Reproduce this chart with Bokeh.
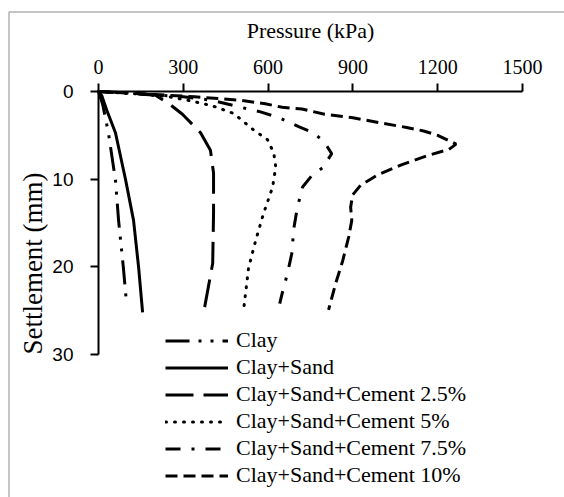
import math
from bokeh.plotting import figure
from bokeh.models import Range1d, Legend, LegendItem, BoxAnnotation, Label
from bokeh.embed import file_html
from bokeh.resources import INLINE

# ---- data ----
pressure_ticks = [0, 300, 600, 900, 1200, 1500]
settlement_ticks = [0, 10, 20, 30]

clay_p = [0, 15, 35, 60, 71, 88, 99]
clay_s = [0, 1.5, 4.7, 10.1, 14.7, 20.1, 24.1]

sand_p = [0, 12, 30, 60, 96, 124, 142, 156]
sand_s = [0, 0.5, 2.2, 4.7, 10.1, 14.7, 20.1, 25.2]

c25_p = [0, 100, 200, 250, 297, 361, 396, 407, 407, 404, 375]
c25_s = [0, 0.15, 0.4, 1.4, 2.6, 4.7, 6.7, 9.3, 13.9, 19.6, 24.7]

c5_p = [0, 150, 250, 315, 400, 478, 549, 598, 620, 627, 616, 584, 556, 531, 513]
c5_s = [0, 0.3, 0.6, 1.0, 1.6, 2.5, 4.4, 5.5, 7.0, 8.6, 10.9, 13.9, 17.0, 20.1, 25.0]

c75_p = [0, 150, 300, 400, 490, 570, 640, 708, 760, 800, 825, 793, 757, 722, 703, 690, 685, 669, 650, 641]
c75_s = [0, 0.3, 0.6, 1.0, 1.7, 2.3, 3.0, 4.0, 4.7, 5.8, 7.1, 8.7, 9.5, 10.9, 13.3, 15.8, 18.3, 20.7, 23.0, 24.2]

c10_p = [0, 200, 340, 500, 590, 650, 720, 800, 900, 1000, 1090, 1150, 1200, 1265, 1240, 1165,
         1069, 988, 927, 899, 892, 896, 885, 864, 839, 814]
c10_s = [0, 0.35, 0.6, 1.0, 1.4, 1.8, 2.0, 2.6, 3.0, 3.6, 4.1, 4.5, 5.0, 6.0, 6.6, 7.3,
         8.4, 9.5, 10.7, 11.8, 13.2, 14.7, 16.6, 19.3, 21.9, 24.9]

labels = ["Clay", "Clay+Sand", "Clay+Sand+Cement 2.5%", "Clay+Sand+Cement 5%",
          "Clay+Sand+Cement 7.5%", "Clay+Sand+Cement 10%"]

SERIF = "Liberation Serif"
SANS = "Liberation Sans"

# layout geometry (pixels)
W_PX, H_PX = 564, 497
FL, FT = 6, 9               # frame left/top (frame runs to canvas right/bottom)
AX0_X, AX1500_X = 98, 522   # pixel of 0 and 1500 kPa
AX0_Y, AX30_Y = 91, 354     # pixel of 0 and 30 mm
kx = (AX1500_X - AX0_X) / 1500.0
ky = (AX30_Y - AX0_Y) / 30.0
x_start = -(AX0_X - FL) / kx
x_end = 1500 + (W_PX - AX1500_X) / kx
y_top = -(AX0_Y - FT) / ky
y_bottom = 30 + (H_PX - AX30_Y) / ky

p = figure(width=W_PX, height=H_PX, output_backend="svg", toolbar_location=None,
           x_range=Range1d(x_start, x_end), y_range=Range1d(y_bottom, y_top),
           x_axis_location="above",
           min_border_left=FL, min_border_right=0, min_border_top=FT, min_border_bottom=0)
p.outline_line_color = None
p.grid.visible = False
p.background_fill_color = "white"
p.border_fill_color = "white"

# x axis
xa = p.xaxis[0]
xa.fixed_location = 0
xa.bounds = (0, 1500)
xa.ticker = pressure_ticks
xa.axis_label = "Pressure (kPa)"
xa.axis_label_text_font = SERIF
xa.axis_label_text_font_size = "22px"
xa.axis_label_text_font_style = "normal"
xa.axis_label_text_color = "black"
xa.axis_label_standoff = 14
xa.major_label_text_font = SERIF
xa.major_label_text_font_size = "20px"
xa.major_label_text_color = "black"
xa.major_label_standoff = 10
xa.axis_line_width = 2
xa.axis_line_color = "black"
xa.major_tick_line_width = 2
xa.major_tick_line_color = "black"
xa.major_tick_out = 8
xa.major_tick_in = 0
xa.minor_tick_line_color = None

# y axis
ya = p.yaxis[0]
ya.fixed_location = 0
ya.bounds = (0, 30)
ya.ticker = settlement_ticks
ya.major_label_text_font = SANS
ya.major_label_text_font_size = "19px"
ya.major_label_text_color = "black"
ya.major_label_standoff = 17
ya.axis_line_width = 2
ya.axis_line_color = "black"
ya.major_tick_line_width = 2
ya.major_tick_line_color = "black"
ya.major_tick_out = 8
ya.major_tick_in = 0
ya.minor_tick_line_color = None

ytitle = Label(x=(32 - AX0_X) / kx, y=(263 - AX0_Y) / ky, text="Settlement (mm)",
               angle=math.pi / 2, text_align="center", text_baseline="middle",
               text_font=SERIF, text_font_size="27px", text_color="black")
p.add_layout(ytitle)

W = 3
r1 = p.line(clay_p, clay_s, line_color="black", line_width=W, line_dash="24 9 3 9 3 9")
r2 = p.line(sand_p, sand_s, line_color="black", line_width=W)
r3 = p.line(c25_p, c25_s, line_color="black", line_width=W, line_dash="28 10")
r4 = p.line(c5_p, c5_s, line_color="black", line_width=W, line_dash="1 8", line_cap="round")
r5 = p.line(c75_p, c75_s, line_color="black", line_width=W, line_dash="15 11 3 11")
r6 = p.line(c10_p, c10_s, line_color="black", line_width=W, line_dash="12 6")

items = [LegendItem(label=l, renderers=[r]) for l, r in zip(labels, [r1, r2, r3, r4, r5, r6])]
legend = Legend(items=items, location=(165 - FL, 9))
legend.border_line_color = None
legend.background_fill_alpha = 0
legend.padding = 0
legend.margin = 0
legend.spacing = 1
legend.glyph_width = 63
legend.glyph_height = 25
legend.label_height = 25
legend.label_standoff = 8
legend.label_text_font = SERIF
legend.label_text_font_size = "22px"
legend.label_text_color = "black"
p.add_layout(legend, "center")

border = BoxAnnotation(left=8.5, right=2000, top=11.5, bottom=2000,
                       left_units="canvas", right_units="canvas",
                       top_units="canvas", bottom_units="canvas",
                       fill_color=None, fill_alpha=0,
                       line_color="black", line_width=1.5)
p.add_layout(border)

open("out.html", "w").write(file_html(p, INLINE))
